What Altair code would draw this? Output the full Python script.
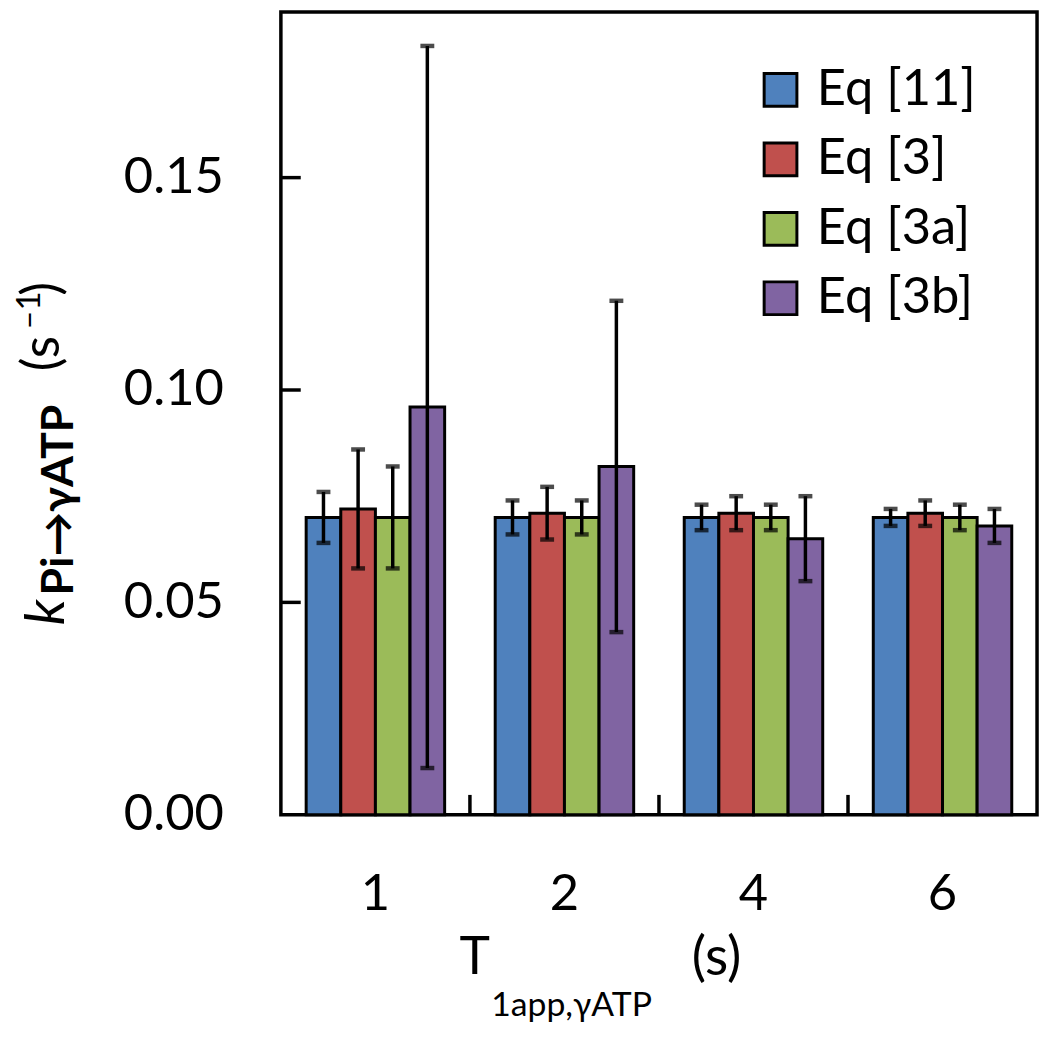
import altair as alt
import pandas as pd

# ---- data ----
T_labels = ["1", "2", "4", "6"]
eq_names = ["Eq [11]", "Eq [3]", "Eq [3a]", "Eq [3b]"]
colors = ["#4F81BD", "#C0504D", "#9BBB59", "#8064A2"]

eq11 = [0.070, 0.070, 0.070, 0.070]
eq11_err = [0.006, 0.004, 0.003, 0.002]
eq3 = [0.072, 0.071, 0.071, 0.071]
eq3_err = [0.014, 0.0062, 0.004, 0.003]
eq3a = [0.070, 0.070, 0.070, 0.070]
eq3a_err = [0.012, 0.004, 0.003, 0.003]
eq3b = [0.096, 0.082, 0.065, 0.068]
eq3b_err = [0.085, 0.039, 0.010, 0.004]

y_tick_values = [0.00, 0.05, 0.10, 0.15]
y_inner_ticks = [0.05, 0.10, 0.15]

series = [(eq_names[0], eq11, eq11_err), (eq_names[1], eq3, eq3_err),
          (eq_names[2], eq3a, eq3a_err), (eq_names[3], eq3b, eq3b_err)]
rows = []
for name, vals, errs in series:
    for t, v, e in zip(T_labels, vals, errs):
        rows.append({"T": t, "eq": name, "val": v, "lo": v - e, "hi": v + e})
df = pd.DataFrame(rows)

W, H = 762, 809
FONT = "Lato"
YMAX = 0.189
TICK_LEN = 20
yscale = alt.Scale(domain=[0, YMAX], nice=False, zero=True)
xscale = alt.Scale(paddingInner=0, paddingOuter=0)
xoff = alt.XOffset("eq:N", sort=eq_names, scale=alt.Scale(paddingOuter=0.73, paddingInner=0))
xenc = alt.X("T:N", sort=T_labels, scale=xscale,
             axis=alt.Axis(title=None, labelAngle=0, labelFontSize=51, labelFont=FONT,
                           labelColor="black", ticks=False, tickSize=0, domain=False,
                           labelPadding=55))

base = alt.Chart(df)

bars = base.mark_bar(stroke="black", strokeWidth=3).encode(
    x=xenc,
    xOffset=xoff,
    y=alt.Y("val:Q", scale=yscale,
            axis=alt.Axis(title=None, values=y_tick_values, format=".2f", labelFontSize=51,
                          labelFont=FONT, labelColor="black", ticks=False, tickSize=0,
                          domain=False, grid=False, labelPadding=58)),
    color=alt.Color("eq:N", sort=eq_names,
                    scale=alt.Scale(domain=eq_names, range=colors),
                    legend=alt.Legend(orient="none", legendX=478, legendY=53, title=None,
                                      labelFontSize=51, labelFont=FONT, labelColor="black",
                                      labelLimit=400,
                                      symbolType="square", symbolSize=1089,
                                      symbolStrokeColor="black", symbolStrokeWidth=3,
                                      symbolOpacity=1, rowPadding=18, labelOffset=11,
                                      padding=0)),
)

err = base.mark_rule(color="black", strokeWidth=3.5).encode(
    x=alt.X("T:N", sort=T_labels),
    xOffset=xoff,
    y=alt.Y("lo:Q", scale=yscale, title=None),
    y2="hi:Q",
)
cap_lo = base.mark_tick(color="black", thickness=4.5, size=14, orient="horizontal").encode(
    x=alt.X("T:N", sort=T_labels),
    xOffset=xoff,
    y=alt.Y("lo:Q", scale=yscale, title=None),
)
cap_hi = base.mark_tick(color="black", thickness=4.5, size=14, orient="horizontal").encode(
    x=alt.X("T:N", sort=T_labels),
    xOffset=xoff,
    y=alt.Y("hi:Q", scale=yscale, title=None),
)

one = pd.DataFrame({"a": [0]})

# inward x tick marks (Excel-style) at the boundaries between categories
n_cat = len(T_labels)
xticks = [
    alt.Chart(one).mark_rule(color="black", strokeWidth=3.5).encode(
        x=alt.value(i * W / n_cat), y=alt.value(H - TICK_LEN), y2=alt.value(H))
    for i in range(1, n_cat)
]
# inward y tick marks
yticks = alt.Chart(pd.DataFrame({"v": y_inner_ticks})).mark_rule(color="black", strokeWidth=3.5).encode(
    y=alt.Y("v:Q", scale=yscale, title=None),
    x=alt.value(0),
    x2=alt.value(TICK_LEN),
)


def txt(s, x, y, size, angle=0, style="normal", weight="normal"):
    kw = dict(text=s, font=FONT, fontSize=size, color="black", align="left",
              baseline="alphabetic", fontStyle=style, fontWeight=weight)
    if angle:
        kw["angle"] = angle
    return alt.Chart(one).mark_text(**kw).encode(x=alt.value(x), y=alt.value(y))


texts = [
    # y title
    txt("k", -219, 618, 55, angle=270, style="italic"),
    txt("Pi\u2192\u03b3ATP", -209, 588, 45, angle=270, weight="bold"),
    txt("(s", -224, 362, 52, angle=270),
    txt("\u20131", -243, 320, 33, angle=270),
    txt(")", -224, 286, 52, angle=270),
    # x title
    txt("T", 180, 969, 52),
    txt("1app,\u03b3ATP", 212, 1012, 34),
    txt("(s)", 414, 970, 54),
]

chart = alt.layer(bars, err, cap_lo, cap_hi, yticks, *xticks, *texts).properties(
    width=W, height=H,
    background="white",
    autosize=alt.AutoSizeParams(type="none"),
    padding={"left": 275, "top": 0, "right": 5, "bottom": 225},
).configure_view(stroke="black", strokeWidth=3.5)

chart.save("out.html", embed_options={"renderer": "svg", "actions": False})
